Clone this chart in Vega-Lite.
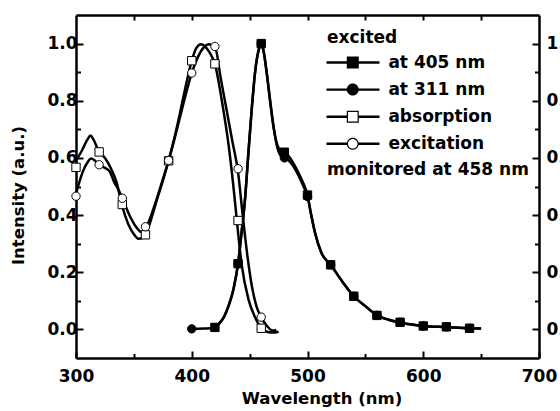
{
  "$schema": "https://vega.github.io/schema/vega-lite/v6.json",
  "width": 463,
  "height": 343,
  "autosize": {"type": "none"},
  "padding": {"left": 76, "top": 15, "right": 21, "bottom": 53},
  "background": "white",
  "config": {
    "font": "DejaVu Sans",
    "view": {"stroke": null},
    "axis": {
      "grid": false,
      "domainColor": "black",
      "domainWidth": 2.5,
      "tickColor": "black",
      "tickWidth": 2,
      "labelColor": "black",
      "labelFont": "DejaVu Sans",
      "labelFontWeight": "bold",
      "labelFontSize": 17,
      "titleFont": "DejaVu Sans",
      "titleFontWeight": "bold",
      "titleFontSize": 16.5,
      "titleColor": "black",
      "labelFlush": false,
      "labelOverlap": false
    },
    "legend": {
      "orient": "none",
      "padding": 0,
      "titleFont": "DejaVu Sans",
      "titleFontSize": 17,
      "titleFontWeight": "bold",
      "titleColor": "black",
      "titleLimit": 400,
      "labelFont": "DejaVu Sans",
      "labelFontSize": 17,
      "labelFontWeight": "bold",
      "labelColor": "black",
      "labelLimit": 400
    }
  },
  "datasets": {
    "curves": [
      {"series": "absorption", "wl": 300, "v": 0.59},
      {"series": "absorption", "wl": 305, "v": 0.625},
      {"series": "absorption", "wl": 310, "v": 0.665},
      {"series": "absorption", "wl": 312.5, "v": 0.678},
      {"series": "absorption", "wl": 315, "v": 0.665},
      {"series": "absorption", "wl": 320, "v": 0.621},
      {"series": "absorption", "wl": 325, "v": 0.6},
      {"series": "absorption", "wl": 330, "v": 0.565},
      {"series": "absorption", "wl": 335, "v": 0.515},
      {"series": "absorption", "wl": 340, "v": 0.43},
      {"series": "absorption", "wl": 345, "v": 0.37},
      {"series": "absorption", "wl": 350, "v": 0.333},
      {"series": "absorption", "wl": 354, "v": 0.317},
      {"series": "absorption", "wl": 358, "v": 0.322},
      {"series": "absorption", "wl": 362, "v": 0.35},
      {"series": "absorption", "wl": 366, "v": 0.4},
      {"series": "absorption", "wl": 370, "v": 0.455},
      {"series": "absorption", "wl": 375, "v": 0.52},
      {"series": "absorption", "wl": 380, "v": 0.59},
      {"series": "absorption", "wl": 385, "v": 0.67},
      {"series": "absorption", "wl": 390, "v": 0.76},
      {"series": "absorption", "wl": 395, "v": 0.855},
      {"series": "absorption", "wl": 400, "v": 0.94},
      {"series": "absorption", "wl": 404, "v": 0.985},
      {"series": "absorption", "wl": 408, "v": 0.998},
      {"series": "absorption", "wl": 412, "v": 0.988},
      {"series": "absorption", "wl": 416, "v": 0.965},
      {"series": "absorption", "wl": 420, "v": 0.929},
      {"series": "absorption", "wl": 426, "v": 0.8},
      {"series": "absorption", "wl": 432, "v": 0.64},
      {"series": "absorption", "wl": 436, "v": 0.5},
      {"series": "absorption", "wl": 439, "v": 0.38},
      {"series": "absorption", "wl": 443, "v": 0.23},
      {"series": "absorption", "wl": 449, "v": 0.105},
      {"series": "absorption", "wl": 455, "v": 0.04},
      {"series": "absorption", "wl": 460, "v": 0.004},
      {"series": "absorption", "wl": 465, "v": -0.008},
      {"series": "absorption", "wl": 470, "v": -0.011},
      {"series": "absorption", "wl": 475, "v": -0.008},
      {"series": "excitation", "wl": 300, "v": 0.475},
      {"series": "excitation", "wl": 306, "v": 0.553},
      {"series": "excitation", "wl": 310, "v": 0.585},
      {"series": "excitation", "wl": 313, "v": 0.598},
      {"series": "excitation", "wl": 316, "v": 0.592},
      {"series": "excitation", "wl": 320, "v": 0.576},
      {"series": "excitation", "wl": 325, "v": 0.565},
      {"series": "excitation", "wl": 329, "v": 0.553},
      {"series": "excitation", "wl": 333, "v": 0.515},
      {"series": "excitation", "wl": 336.5, "v": 0.49},
      {"series": "excitation", "wl": 340, "v": 0.459},
      {"series": "excitation", "wl": 346.6, "v": 0.396},
      {"series": "excitation", "wl": 352.4, "v": 0.356},
      {"series": "excitation", "wl": 357, "v": 0.34},
      {"series": "excitation", "wl": 360, "v": 0.352},
      {"series": "excitation", "wl": 365, "v": 0.4},
      {"series": "excitation", "wl": 370, "v": 0.46},
      {"series": "excitation", "wl": 375, "v": 0.525},
      {"series": "excitation", "wl": 380, "v": 0.591},
      {"series": "excitation", "wl": 385, "v": 0.665},
      {"series": "excitation", "wl": 390, "v": 0.745},
      {"series": "excitation", "wl": 395, "v": 0.825},
      {"series": "excitation", "wl": 400, "v": 0.897},
      {"series": "excitation", "wl": 405, "v": 0.95},
      {"series": "excitation", "wl": 410, "v": 0.985},
      {"series": "excitation", "wl": 415, "v": 0.998},
      {"series": "excitation", "wl": 420, "v": 0.99},
      {"series": "excitation", "wl": 425, "v": 0.88},
      {"series": "excitation", "wl": 430, "v": 0.77},
      {"series": "excitation", "wl": 435, "v": 0.66},
      {"series": "excitation", "wl": 440, "v": 0.55},
      {"series": "excitation", "wl": 444, "v": 0.4},
      {"series": "excitation", "wl": 448, "v": 0.26},
      {"series": "excitation", "wl": 452, "v": 0.15},
      {"series": "excitation", "wl": 456, "v": 0.08},
      {"series": "excitation", "wl": 460, "v": 0.043},
      {"series": "excitation", "wl": 465, "v": 0.012},
      {"series": "excitation", "wl": 470, "v": -0.004},
      {"series": "excitation", "wl": 473, "v": -0.002},
      {"series": "at 405 nm", "wl": 420, "v": 0.007},
      {"series": "at 405 nm", "wl": 424, "v": 0.022},
      {"series": "at 405 nm", "wl": 428, "v": 0.045},
      {"series": "at 405 nm", "wl": 432, "v": 0.085},
      {"series": "at 405 nm", "wl": 436, "v": 0.14},
      {"series": "at 405 nm", "wl": 440, "v": 0.23},
      {"series": "at 405 nm", "wl": 443, "v": 0.338},
      {"series": "at 405 nm", "wl": 446, "v": 0.455},
      {"series": "at 405 nm", "wl": 449, "v": 0.62},
      {"series": "at 405 nm", "wl": 452, "v": 0.78},
      {"series": "at 405 nm", "wl": 455, "v": 0.91},
      {"series": "at 405 nm", "wl": 458, "v": 0.98},
      {"series": "at 405 nm", "wl": 460, "v": 1.0},
      {"series": "at 405 nm", "wl": 462, "v": 0.975},
      {"series": "at 405 nm", "wl": 465, "v": 0.89},
      {"series": "at 405 nm", "wl": 468, "v": 0.79},
      {"series": "at 405 nm", "wl": 471, "v": 0.7},
      {"series": "at 405 nm", "wl": 474, "v": 0.645},
      {"series": "at 405 nm", "wl": 477, "v": 0.625},
      {"series": "at 405 nm", "wl": 480, "v": 0.62},
      {"series": "at 405 nm", "wl": 484, "v": 0.605},
      {"series": "at 405 nm", "wl": 488, "v": 0.58},
      {"series": "at 405 nm", "wl": 492, "v": 0.55},
      {"series": "at 405 nm", "wl": 496, "v": 0.515},
      {"series": "at 405 nm", "wl": 500, "v": 0.47},
      {"series": "at 405 nm", "wl": 503, "v": 0.405},
      {"series": "at 405 nm", "wl": 506.5, "v": 0.338},
      {"series": "at 405 nm", "wl": 512, "v": 0.268},
      {"series": "at 405 nm", "wl": 520, "v": 0.226},
      {"series": "at 405 nm", "wl": 530, "v": 0.168},
      {"series": "at 405 nm", "wl": 540, "v": 0.116},
      {"series": "at 405 nm", "wl": 551, "v": 0.078},
      {"series": "at 405 nm", "wl": 560, "v": 0.049},
      {"series": "at 405 nm", "wl": 570, "v": 0.034},
      {"series": "at 405 nm", "wl": 580, "v": 0.025},
      {"series": "at 405 nm", "wl": 590, "v": 0.017},
      {"series": "at 405 nm", "wl": 600, "v": 0.012},
      {"series": "at 405 nm", "wl": 620, "v": 0.008},
      {"series": "at 405 nm", "wl": 640, "v": 0.004},
      {"series": "at 405 nm", "wl": 650, "v": 0.003},
      {"series": "at 311 nm", "wl": 400, "v": 0.002},
      {"series": "at 311 nm", "wl": 410, "v": 0.003},
      {"series": "at 311 nm", "wl": 420, "v": 0.007},
      {"series": "at 311 nm", "wl": 424, "v": 0.022},
      {"series": "at 311 nm", "wl": 428, "v": 0.045},
      {"series": "at 311 nm", "wl": 432, "v": 0.085},
      {"series": "at 311 nm", "wl": 436, "v": 0.14},
      {"series": "at 311 nm", "wl": 440, "v": 0.23},
      {"series": "at 311 nm", "wl": 443, "v": 0.338},
      {"series": "at 311 nm", "wl": 446, "v": 0.455},
      {"series": "at 311 nm", "wl": 449, "v": 0.62},
      {"series": "at 311 nm", "wl": 452, "v": 0.78},
      {"series": "at 311 nm", "wl": 455, "v": 0.91},
      {"series": "at 311 nm", "wl": 458, "v": 0.98},
      {"series": "at 311 nm", "wl": 460, "v": 1.0},
      {"series": "at 311 nm", "wl": 462, "v": 0.975},
      {"series": "at 311 nm", "wl": 465, "v": 0.89},
      {"series": "at 311 nm", "wl": 468, "v": 0.79},
      {"series": "at 311 nm", "wl": 471, "v": 0.7},
      {"series": "at 311 nm", "wl": 474, "v": 0.635},
      {"series": "at 311 nm", "wl": 477, "v": 0.607},
      {"series": "at 311 nm", "wl": 480, "v": 0.6},
      {"series": "at 311 nm", "wl": 484, "v": 0.59},
      {"series": "at 311 nm", "wl": 488, "v": 0.57},
      {"series": "at 311 nm", "wl": 492, "v": 0.54},
      {"series": "at 311 nm", "wl": 496, "v": 0.505},
      {"series": "at 311 nm", "wl": 500, "v": 0.465},
      {"series": "at 311 nm", "wl": 503, "v": 0.405},
      {"series": "at 311 nm", "wl": 506.5, "v": 0.338},
      {"series": "at 311 nm", "wl": 512, "v": 0.268},
      {"series": "at 311 nm", "wl": 520, "v": 0.226},
      {"series": "at 311 nm", "wl": 530, "v": 0.168},
      {"series": "at 311 nm", "wl": 540, "v": 0.116},
      {"series": "at 311 nm", "wl": 551, "v": 0.078},
      {"series": "at 311 nm", "wl": 560, "v": 0.049},
      {"series": "at 311 nm", "wl": 570, "v": 0.034},
      {"series": "at 311 nm", "wl": 580, "v": 0.025},
      {"series": "at 311 nm", "wl": 590, "v": 0.017},
      {"series": "at 311 nm", "wl": 600, "v": 0.012},
      {"series": "at 311 nm", "wl": 620, "v": 0.008},
      {"series": "at 311 nm", "wl": 640, "v": 0.004},
      {"series": "at 311 nm", "wl": 650, "v": 0.003}
    ],
    "markers": [
      {"series": "absorption", "wl": 300, "v": 0.567},
      {"series": "absorption", "wl": 320, "v": 0.621},
      {"series": "absorption", "wl": 340, "v": 0.437},
      {"series": "absorption", "wl": 360, "v": 0.331},
      {"series": "absorption", "wl": 380, "v": 0.59},
      {"series": "absorption", "wl": 400, "v": 0.94},
      {"series": "absorption", "wl": 420, "v": 0.929},
      {"series": "absorption", "wl": 440, "v": 0.381},
      {"series": "absorption", "wl": 460, "v": 0.004},
      {"series": "excitation", "wl": 300, "v": 0.466},
      {"series": "excitation", "wl": 320, "v": 0.576},
      {"series": "excitation", "wl": 340, "v": 0.459},
      {"series": "excitation", "wl": 360, "v": 0.359},
      {"series": "excitation", "wl": 380, "v": 0.591},
      {"series": "excitation", "wl": 400, "v": 0.897},
      {"series": "excitation", "wl": 420, "v": 0.99},
      {"series": "excitation", "wl": 440, "v": 0.562},
      {"series": "excitation", "wl": 460, "v": 0.043},
      {"series": "at 405 nm", "wl": 420, "v": 0.007},
      {"series": "at 405 nm", "wl": 440, "v": 0.23},
      {"series": "at 405 nm", "wl": 460, "v": 1.0},
      {"series": "at 405 nm", "wl": 480, "v": 0.62},
      {"series": "at 405 nm", "wl": 500, "v": 0.47},
      {"series": "at 405 nm", "wl": 520, "v": 0.226},
      {"series": "at 405 nm", "wl": 540, "v": 0.116},
      {"series": "at 405 nm", "wl": 560, "v": 0.049},
      {"series": "at 405 nm", "wl": 580, "v": 0.025},
      {"series": "at 405 nm", "wl": 600, "v": 0.012},
      {"series": "at 405 nm", "wl": 620, "v": 0.009},
      {"series": "at 405 nm", "wl": 640, "v": 0.004},
      {"series": "at 311 nm", "wl": 400, "v": 0.002},
      {"series": "at 311 nm", "wl": 440, "v": 0.23},
      {"series": "at 311 nm", "wl": 460, "v": 1.0},
      {"series": "at 311 nm", "wl": 480, "v": 0.6},
      {"series": "at 311 nm", "wl": 500, "v": 0.465},
      {"series": "at 311 nm", "wl": 520, "v": 0.226},
      {"series": "at 311 nm", "wl": 540, "v": 0.116},
      {"series": "at 311 nm", "wl": 560, "v": 0.049},
      {"series": "at 311 nm", "wl": 580, "v": 0.025},
      {"series": "at 311 nm", "wl": 600, "v": 0.012},
      {"series": "at 311 nm", "wl": 620, "v": 0.009},
      {"series": "at 311 nm", "wl": 640, "v": 0.004}
    ]
  },
  "layer": [
    {
      "data": {"name": "curves"},
      "mark": {"type": "line", "interpolate": "monotone", "color": "black", "strokeWidth": 2.5},
      "encoding": {
        "x": {
          "field": "wl", "type": "quantitative",
          "scale": {"domain": [300, 700], "nice": false, "zero": false},
          "axis": {"orient": "bottom", "values": [300, 400, 500, 600, 700], "format": "d", "tickSize": -7, "labelPadding": 17, "title": "Wavelength (nm)", "titlePadding": 6, "titleX": 245.5}
        },
        "y": {
          "field": "v", "type": "quantitative",
          "scale": {"domain": [-0.1, 1.1], "nice": false, "zero": false},
          "axis": {"orient": "left", "values": [0, 0.2, 0.4, 0.6, 0.8, 1.0], "format": ".1f", "tickSize": -7, "labelPadding": 6, "title": "Intensity (a.u.)", "titlePadding": 20, "titleY": 180}
        },
        "detail": {"field": "series", "type": "nominal"}
      }
    },
    {
      "data": {"name": "markers"},
      "mark": {"type": "point", "filled": true, "size": 70, "opacity": 1, "stroke": "black", "strokeWidth": 1},
      "encoding": {
        "x": {
          "field": "wl", "type": "quantitative",
          "axis": {"orient": "bottom", "values": [350, 450, 550, 650], "labels": false, "domain": false, "tickSize": -4.5, "title": null}
        },
        "y": {
          "field": "v", "type": "quantitative",
          "axis": {"orient": "left", "values": [0.1, 0.3, 0.5, 0.7, 0.9], "labels": false, "domain": false, "tickSize": -4.5, "title": null}
        },
        "shape": {
          "condition": {"test": "datum.series === 'absorption' || datum.series === 'at 405 nm'", "value": "square"},
          "value": "circle"
        },
        "fill": {
          "condition": {"test": "datum.series === 'absorption' || datum.series === 'excitation'", "value": "white"},
          "value": "black"
        }
      }
    },
    {
      "data": {"name": "markers"},
      "transform": [{"filter": "datum.v > 5"}],
      "mark": {"type": "point", "filled": true, "opacity": 1, "color": "black"},
      "encoding": {
        "x": {
          "field": "wl", "type": "quantitative",
          "axis": {"orient": "top", "values": [350, 400, 450, 500, 550, 600, 650], "labels": false, "tickSize": -5, "title": null}
        },
        "y": {
          "field": "v", "type": "quantitative",
          "axis": {"orient": "right", "values": [0, 0.2, 0.4, 0.6, 0.8, 1.0], "format": ".1f", "tickSize": -7, "labelPadding": 14, "title": null}
        },
        "shape": {
          "field": "series", "type": "nominal",
          "scale": {
            "domain": ["at 405 nm", "at 311 nm", "absorption", "excitation"],
            "range": [
              "M-1.5,-0.2H7.33V0.2H-1.5ZM1.88,-1H3.88V1H1.88Z",
              "M-1.5,-0.2H7.33V0.2H-1.5ZM3.88,0A1,1 0 1,1 1.88,0A1,1 0 1,1 3.88,0Z",
              "M-1.5,-0.2H1.88V0.2H-1.5ZM3.88,-0.2H7.33V0.2H3.88ZM1.88,-1H3.88V1H1.88ZM2.08,-0.8V0.8H3.68V-0.8Z",
              "M-1.5,-0.2H1.9V0.2H-1.5ZM3.86,-0.2H7.33V0.2H3.86ZM3.88,0A1,1 0 1,1 1.88,0A1,1 0 1,1 3.88,0ZM3.68,0A0.8,0.8 0 1,0 2.08,0A0.8,0.8 0 1,0 3.68,0Z"
            ]
          },
          "legend": {
            "title": "excited",
            "legendX": 251,
            "legendY": 15,
            "titlePadding": 7,
            "labelOffset": 44.4,
            "rowPadding": 9.1,
            "symbolSize": 144,
            "symbolFillColor": "black",
            "symbolStrokeWidth": 0
          }
        }
      }
    },
    {
      "data": {"name": "markers"},
      "transform": [{"filter": "datum.v > 5"}],
      "mark": {"type": "point", "opacity": 1},
      "encoding": {
        "x": {"field": "wl", "type": "quantitative", "axis": null},
        "y": {
          "field": "v", "type": "quantitative",
          "axis": {"orient": "right", "values": [0.1, 0.3, 0.5, 0.7, 0.9], "labels": false, "domain": false, "tickSize": -4.5, "title": null}
        },
        "stroke": {
          "field": "series", "type": "nominal",
          "scale": {"domain": ["note"], "range": ["transparent"]},
          "legend": {
            "title": "monitored at 458 nm",
            "legendX": 251,
            "legendY": 147,
            "labelExpr": "''",
            "symbolOpacity": 0,
            "symbolSize": 1,
            "titlePadding": 0
          }
        }
      }
    }
  ],
  "resolve": {"axis": {"x": "independent", "y": "independent"}}
}
